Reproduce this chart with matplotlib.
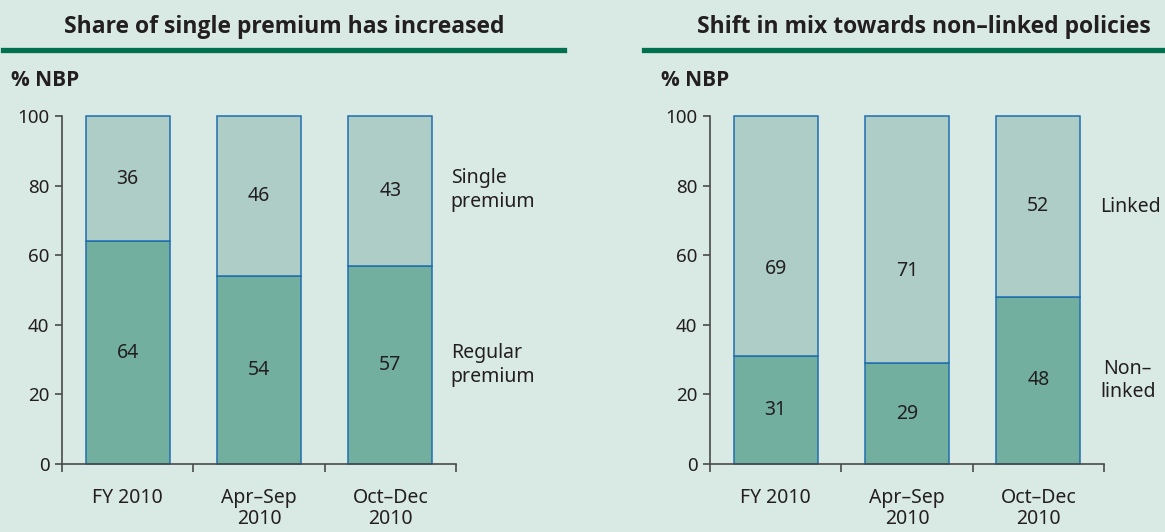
import matplotlib.pyplot as plt
from matplotlib.lines import Line2D

plt.rcParams['font.family'] = ['Noto Sans', 'DejaVu Sans']

# bold face: use one that is actually installed with a bold weight
bold_family = ['Open Sans', 'Lato', 'DejaVu Sans']

# ── DATA ─────────────────────────────────────────────
categories = ['FY 2010', 'Apr\u2013Sep\n2010', 'Oct\u2013Dec\n2010']

regular_premium = [64, 54, 57]
single_premium = [36, 46, 43]

non_linked = [31, 29, 48]
linked = [69, 71, 52]

yticks = [0, 20, 40, 60, 80, 100]

# ── STYLE ────────────────────────────────────────────
bg = '#D9E9E4'
dark_fill = '#72AF9F'
light_fill = '#ADCDC6'
edge = '#1F6FAF'
rule_green = '#00704F'
txt = '#231F20'
axis_col = '#4A4A4A'
fs = 14

fig = plt.figure(figsize=(11.65, 5.32), dpi=100, facecolor=bg)

W, H = 1165, 532


def panel(left_px, bottom_vals, top_vals, top_label_y=None):
    ax = fig.add_axes([left_px / W, 1 - 464 / H, 394 / W, (464 - 116) / H])
    ax.set_facecolor(bg)
    x = range(len(categories))
    ax.bar(x, bottom_vals, width=0.64, color=dark_fill, edgecolor=edge,
           linewidth=1.1, clip_on=False, zorder=2)
    ax.bar(x, top_vals, bottom=bottom_vals, width=0.64, color=light_fill,
           edgecolor=edge, linewidth=1.1, clip_on=False, zorder=2)
    for i, (b, t) in enumerate(zip(bottom_vals, top_vals)):
        ax.text(i, b / 2, str(b), ha='center', va='center', fontsize=fs, color=txt, zorder=3)
        ty = b + t / 2 if top_label_y is None else top_label_y[i]
        ax.text(i, ty, str(t), ha='center', va='center', fontsize=fs, color=txt, zorder=3)

    ax.set_xlim(-0.5, 2.5)
    ax.set_ylim(0, 100)
    ax.set_yticks(yticks)
    ax.set_xticks(list(x))
    ax.set_xticklabels(categories, fontsize=fs, color=txt, linespacing=1.1)
    ax.set_xticks([-0.5, 0.5, 1.5, 2.5], minor=True)
    ax.tick_params(axis='x', which='major', length=0, pad=17)
    ax.tick_params(axis='x', which='minor', length=6, width=1.2, color=axis_col, direction='out')
    ax.tick_params(axis='y', length=5, width=1.2, color=axis_col, labelsize=13.5,
                   labelcolor=txt, pad=4)
    for s in ['top', 'right']:
        ax.spines[s].set_visible(False)
    for s in ['left', 'bottom']:
        ax.spines[s].set_color(axis_col)
        ax.spines[s].set_linewidth(1.2)
    return ax


ax1 = panel(62, regular_premium, single_premium)
ax1.text(2.46, 78.7, 'Single\npremium', ha='left', va='center', fontsize=fs,
         color=txt, linespacing=1.25, clip_on=False)
ax1.text(2.46, 28.5, 'Regular\npremium', ha='left', va='center', fontsize=fs,
         color=txt, linespacing=1.25, clip_on=False)

ax2 = panel(710, non_linked, linked, top_label_y=[56, 55.5, 74])
ax2.text(2.47, 73.8, 'Linked', ha='left', va='center', fontsize=fs, color=txt, clip_on=False)
ax2.text(2.68, 24, 'Non\u2013\nlinked', ha='center', va='center', fontsize=fs,
         color=txt, linespacing=1.25, multialignment='center', clip_on=False)

# titles and rules
fig.text(284 / W, 1 - 27 / H, 'Share of single premium has increased', ha='center',
         va='center', fontsize=16.5, fontweight='bold', color=txt, family=bold_family)
fig.text(924 / W, 1 - 27 / H, 'Shift in mix towards non\u2013linked policies', ha='center',
         va='center', fontsize=16.5, fontweight='bold', color=txt, family=bold_family)
fig.add_artist(Line2D([3 / W, 564 / W], [1 - 49.5 / H] * 2, color=rule_green, linewidth=3.8))
fig.add_artist(Line2D([644 / W, 1.0], [1 - 49.5 / H] * 2, color=rule_green, linewidth=3.8))

fig.text(11 / W, 1 - 80 / H, '% NBP', ha='left', va='center', fontsize=15,
         fontweight='bold', color=txt, family=bold_family)
fig.text(661 / W, 1 - 80 / H, '% NBP', ha='left', va='center', fontsize=15,
         fontweight='bold', color=txt, family=bold_family)

plt.savefig('out.png', dpi=100, facecolor=bg)
